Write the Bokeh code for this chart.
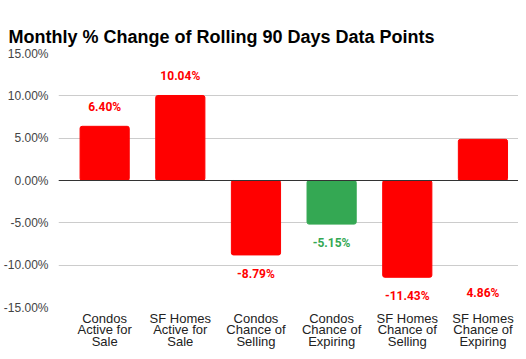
from bokeh.plotting import figure
from bokeh.models import ColumnDataSource, FixedTicker, Span, NumeralTickFormatter, Range1d
from bokeh.core.properties import value
from bokeh.embed import file_html
from bokeh.resources import INLINE

title_text = "Monthly % Change of Rolling 90 Days Data Points"
categories = ["Condos\nActive for\nSale", "SF Homes\nActive for\nSale", "Condos\nChance of\nSelling",
              "Condos\nChance of\nExpiring", "SF Homes\nChance of\nSelling", "SF Homes\nChance of\nExpiring"]
values = [6.40, 10.04, -8.79, -5.15, -11.43, 4.86]
labels = ["6.40%", "10.04%", "-8.79%", "-5.15%", "-11.43%", "4.86%"]
label_anchor = [6.40, 10.04, -8.79, -5.15, -11.43, -11.1]
colors = ["#ff0000", "#ff0000", "#ff0000", "#34a853", "#ff0000", "#ff0000"]
y_ticks = [-15, -10, -5, 0, 5, 10, 15]

xs = list(range(len(categories)))
src = ColumnDataSource(dict(
    x=xs, top=values, color=colors, text=labels, ly=label_anchor,
    yoff=[-12 if a >= 0 else 12 for a in label_anchor],
    base=["bottom" if a >= 0 else "top" for a in label_anchor],
))

p = figure(width=518, height=351, output_backend="svg", toolbar_location=None,
           x_range=Range1d(-0.61, 5.47), y_range=Range1d(-15, 15),
           min_border_left=0, min_border_right=0, min_border_top=53, min_border_bottom=0)
p.title.text = title_text
p.title.text_font = "Liberation Sans"
p.title.text_font_size = "18px"
p.title.text_font_style = "bold"
p.title.text_color = "#000000"
p.title.align = "left"
p.title.vertical_align = "top"
p.title.offset = -50
p.title.standoff = 10

p.vbar(x="x", top="top", bottom=0, width=0.65, color="color", source=src, border_radius=2)
p.text(x="x", y="ly", text="text", source=src, text_color="color",
       text_font=value("Roboto"), text_font_size="12px", text_font_style="bold",
       text_align="center", text_baseline="base", y_offset="yoff")

p.add_layout(Span(location=0, dimension="width", line_color="#333333", line_width=1))

p.yaxis.ticker = FixedTicker(ticks=y_ticks)
p.yaxis.formatter = NumeralTickFormatter(format="0.00")
p.yaxis.major_label_overrides = {t: f"{t:.2f}%" for t in y_ticks}
p.yaxis.axis_line_color = None
p.yaxis.major_tick_line_color = None
p.yaxis.minor_tick_line_color = None
p.yaxis.major_label_text_font = "Liberation Sans"
p.yaxis.major_label_text_font_size = "12px"
p.yaxis.major_label_text_color = "#444444"
p.yaxis.major_label_standoff = 4

p.xaxis.ticker = FixedTicker(ticks=xs)
p.xaxis.major_label_overrides = {i: c for i, c in enumerate(categories)}
p.xaxis.axis_line_color = None
p.xaxis.major_tick_line_color = None
p.xaxis.minor_tick_line_color = None
p.xaxis.major_label_text_font = "Liberation Sans"
p.xaxis.major_label_text_font_size = "13px"
p.xaxis.major_label_text_line_height = 0.78
p.xaxis.major_label_text_color = "#222222"
p.xaxis.major_label_standoff = -3

p.xgrid.grid_line_color = None
p.ygrid.grid_line_color = "#cccccc"
p.outline_line_color = None

open("out.html", "w").write(file_html(p, INLINE))
